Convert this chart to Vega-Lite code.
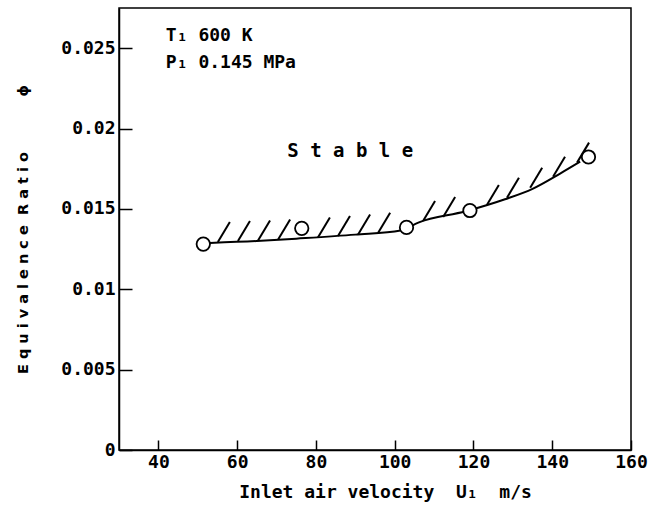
{
  "$schema": "https://vega.github.io/schema/vega-lite/v6.json",
  "autosize": "none",
  "width": 512,
  "height": 442,
  "padding": {"left": 119, "top": 8, "right": 26, "bottom": 58},
  "background": "white",
  "config": {
    "view": {"stroke": "black", "strokeWidth": 1.5},
    "axis": {
      "domainColor": "black", "domainWidth": 1.5,
      "tickColor": "black", "tickWidth": 1.5,
      "grid": false,
      "labelFont": "DejaVu Sans Mono", "labelFontSize": 18, "labelFontWeight": "bold", "labelColor": "black",
      "titleFont": "DejaVu Sans Mono", "titleFontSize": 18, "titleFontWeight": "bold", "titleColor": "black"
    }
  },
  "datasets": {
    "points": [
      {"u": 51.4, "phi": 0.01281},
      {"u": 76.4, "phi": 0.01379},
      {"u": 103.0, "phi": 0.01385},
      {"u": 119.1, "phi": 0.01490},
      {"u": 149.2, "phi": 0.01823}
    ],
    "curve": [
      {"u": 53.1, "phi": 0.01288},
      {"u": 65.0, "phi": 0.01300},
      {"u": 75.0, "phi": 0.01315},
      {"u": 90.0, "phi": 0.01340},
      {"u": 101.5, "phi": 0.01365},
      {"u": 106.0, "phi": 0.01415},
      {"u": 118.0, "phi": 0.01485},
      {"u": 128.0, "phi": 0.01560},
      {"u": 135.0, "phi": 0.01625},
      {"u": 142.0, "phi": 0.01720},
      {"u": 147.1, "phi": 0.01794}
    ],
    "hatch": [
      {"u": 55.1, "phi": 0.01294},
      {"u": 60.2, "phi": 0.01300},
      {"u": 65.3, "phi": 0.01303},
      {"u": 70.4, "phi": 0.01309},
      {"u": 80.5, "phi": 0.01322},
      {"u": 85.6, "phi": 0.01331},
      {"u": 90.7, "phi": 0.01341},
      {"u": 95.8, "phi": 0.01352},
      {"u": 107.2, "phi": 0.01425},
      {"u": 112.3, "phi": 0.01450},
      {"u": 123.4, "phi": 0.01525},
      {"u": 128.5, "phi": 0.01569},
      {"u": 134.4, "phi": 0.01631},
      {"u": 140.2, "phi": 0.01700},
      {"u": 146.3, "phi": 0.01788}
    ],
    "notes": [
      {"u": 41.9, "phi": 0.02544, "label": "T₁ 600 K"},
      {"u": 41.9, "phi": 0.02375, "label": "P₁ 0.145 MPa"}
    ],
    "region": [
      {"u": 88.7, "phi": 0.01825, "label": "S t a b l e"}
    ]
  },
  "encoding": {
    "x": {
      "field": "u", "type": "quantitative",
      "scale": {"domain": [30, 160], "nice": false, "zero": false},
      "axis": {
        "values": [40, 60, 80, 100, 120, 140, 160],
        "tickSize": -10, "labelPadding": 13, "labelFlush": false,
        "title": "Inlet air velocity\u00a0\u00a0U₁\u00a0\u00a0m/s", "titlePadding": 12, "titleX": 266
      }
    },
    "y": {
      "field": "phi", "type": "quantitative",
      "scale": {"domain": [0, 0.0275], "nice": false, "zero": true},
      "axis": {
        "values": [0, 0.005, 0.01, 0.015, 0.02, 0.025],
        "format": "~g",
        "tickSize": -13, "labelPadding": 17, "labelFlush": false,
        "title": "E q u i v a l e n c e\u00a0\u00a0R a t i o\u00a0\u00a0\u00a0\u00a0\u00a0\u00a0\u00a0\u00a0\u00a0\u00a0\u00a0ϕ",
        "titleFont": "DejaVu Sans", "titleFontSize": 14.5, "titlePadding": 30
      }
    }
  },
  "layer": [
    {
      "data": {"name": "curve"},
      "mark": {"type": "line", "color": "black", "strokeWidth": 2, "interpolate": "monotone"}
    },
    {
      "data": {"name": "hatch"},
      "mark": {"type": "point", "shape": "M0,0L0.6,-1", "size": 1600, "filled": false, "stroke": "black", "strokeWidth": 2, "opacity": 1}
    },
    {
      "data": {"name": "points"},
      "mark": {"type": "point", "shape": "circle", "size": 180, "filled": true, "fill": "white", "stroke": "black", "strokeWidth": 1.8, "opacity": 1}
    },
    {
      "data": {"name": "notes"},
      "mark": {"type": "text", "align": "left", "baseline": "alphabetic", "font": "DejaVu Sans Mono", "fontSize": 18, "fontWeight": "bold", "color": "black"},
      "encoding": {"text": {"field": "label"}}
    },
    {
      "data": {"name": "region"},
      "mark": {"type": "text", "align": "center", "baseline": "alphabetic", "font": "DejaVu Sans Mono", "fontSize": 19, "fontWeight": "bold", "color": "black"},
      "encoding": {"text": {"field": "label"}}
    }
  ]
}
